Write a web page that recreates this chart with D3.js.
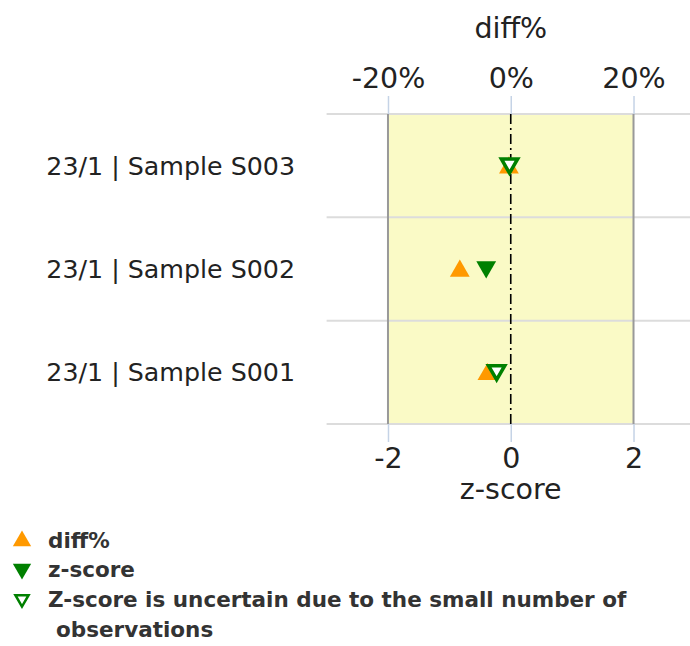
<!DOCTYPE html>
<html><head><meta charset="utf-8">
<script src="https://cdn.jsdelivr.net/npm/d3@7"></script>
<style>
html,body{margin:0;padding:0;background:#fff;}
svg{display:block;font-family:"DejaVu Sans",sans-serif;}
</style></head>
<body><svg id="c" width="690" height="646"></svg>
<script>
const categories = ["23/1 | Sample S003", "23/1 | Sample S002", "23/1 | Sample S001"];
const diffPct = [-0.3, -8.3, -3.8];
const zScore = [-0.02, -0.40, -0.23];
const zUncertain = [true, false, true];
const zTicks = [-2, 0, 2];
const pctTicks = [-20, 0, 20];
const legendItems = ["diff%", "z-score", "Z-score is uncertain due to the small number of", "observations"];

(function () {
const svg = d3.select("#c");
const pLeft = 326.6, pRight = 694.9, pTop = 114, pBottom = 424;
const x = d3.scaleLinear().domain([-3, 3]).range([pLeft, pRight]);
const xp = d3.scaleLinear().domain([-30, 30]).range([pLeft, pRight]);
const y = d3.scaleBand().domain(categories).range([pTop, pBottom]);

const orange = "#ff9900", green = "#008000";

svg.append("rect").attr("x", x(-2)).attr("y", pTop).attr("width", x(2) - x(-2)).attr("height", pBottom - pTop)
  .attr("fill", "#fafac6");

const gl = [pTop, ...categories.slice(1).map(c => y(c)), pBottom];
svg.selectAll("line.h").data(gl).enter().append("line")
  .attr("x1", pLeft).attr("x2", 690).attr("y1", d => d).attr("y2", d => d)
  .attr("stroke", "#dcdcdc").attr("stroke-width", 2);

[-2, 2].forEach(v => {
  svg.append("line").attr("x1", x(v)).attr("x2", x(v)).attr("y1", pTop).attr("y2", pBottom)
    .attr("stroke", "#999").attr("stroke-width", 2);
});

svg.append("line").attr("x1", x(0)).attr("x2", x(0)).attr("y1", pTop).attr("y2", pBottom)
  .attr("stroke", "#000").attr("stroke-width", 1.6).attr("stroke-dasharray", "10,4,2,4");

const topAxis = d3.axisTop(xp).tickValues(pctTicks).tickFormat(d => String(d) + "%").tickSize(18).tickPadding(8);
const gt = svg.append("g").attr("transform", `translate(0,${pTop})`).call(topAxis);
const botAxis = d3.axisBottom(x).tickValues(zTicks).tickSize(18).tickPadding(6).tickFormat(d => String(d));
const gb = svg.append("g").attr("transform", `translate(0,${pBottom})`).call(botAxis);
[gt, gb].forEach(g => {
  g.select(".domain").remove();
  g.selectAll(".tick line").attr("stroke", "#c5d3e6").attr("stroke-width", 1.5);
  g.selectAll(".tick text").attr("font-size", 28.5).attr("fill", "#222").attr("font-family", "DejaVu Sans");
});

svg.append("text").attr("x", x(0)).attr("y", 38).attr("text-anchor", "middle")
  .attr("font-size", 28.5).attr("fill", "#222").text("diff%");
svg.append("text").attr("x", x(0)).attr("y", 499).attr("text-anchor", "middle")
  .attr("font-size", 28.5).attr("fill", "#222").text("z-score");

svg.selectAll("text.yl").data(categories).enter().append("text")
  .attr("x", 295).attr("y", d => y(d) + y.bandwidth() / 2).attr("dy", "0.35em")
  .attr("text-anchor", "end").attr("font-size", 25.3).attr("fill", "#222").text(d => d);

const tri = d3.symbol().type(d3.symbolTriangle).size(170)();
const triSmall = d3.symbol().type(d3.symbolTriangle).size(115)();

svg.selectAll("path.d").data(categories).enter().append("path")
  .attr("d", tri).attr("fill", orange)
  .attr("transform", (d, i) => `translate(${xp(diffPct[i])},${y(d) + y.bandwidth() / 2 + 2})`);

svg.selectAll("path.z").data(categories).enter().append("path")
  .attr("d", (d, i) => zUncertain[i] ? triSmall : tri)
  .attr("fill", (d, i) => zUncertain[i] ? "#fff" : green)
  .attr("stroke", (d, i) => zUncertain[i] ? green : "none")
  .attr("stroke-width", 3.5)
  .attr("transform", (d, i) => `translate(${x(zScore[i])},${y(d) + y.bandwidth() / 2 - 2}) rotate(180)`);

const lg = svg.append("g");
const lx = 22;
lg.append("path").attr("d", d3.symbol().type(d3.symbolTriangle).size(145)()).attr("fill", orange)
  .attr("transform", `translate(${lx},541)`);
lg.append("path").attr("d", d3.symbol().type(d3.symbolTriangle).size(145)()).attr("fill", green)
  .attr("transform", `translate(${lx},569) rotate(180)`);
lg.append("path").attr("d", d3.symbol().type(d3.symbolTriangle).size(75)()).attr("fill", "#fff")
  .attr("stroke", green).attr("stroke-width", 2.5)
  .attr("transform", `translate(${lx},599) rotate(180)`);
const ly = [548, 577, 607, 637];
const lxs = [48, 48, 48, 56];
legendItems.forEach((t, i) => {
  lg.append("text").attr("x", lxs[i]).attr("y", ly[i]).attr("font-size", 21.5).attr("font-weight", "bold")
    .attr("fill", "#333").text(t);
});
})();
</script></body></html>
